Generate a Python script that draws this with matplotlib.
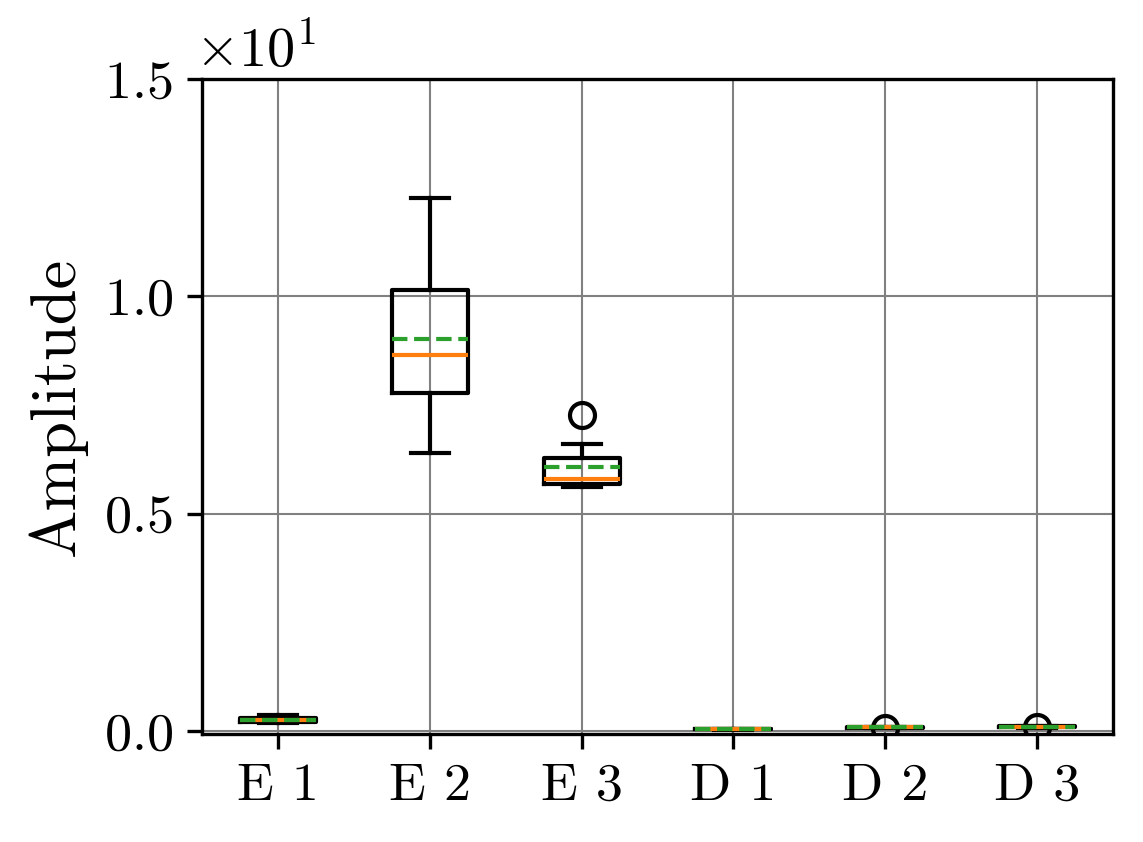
import matplotlib
matplotlib.use("Agg")
import matplotlib.pyplot as plt

plt.rcParams['font.family'] = 'serif'
plt.rcParams['font.serif'] = ['cmr10']
plt.rcParams['mathtext.fontset'] = 'cm'
plt.rcParams['axes.formatter.use_mathtext'] = True
plt.rcParams['axes.unicode_minus'] = False

labels = ["E 1", "E 2", "E 3", "D 1", "D 2", "D 3"]
medians = [0.25, 8.65, 5.79, 0.04, 0.08, 0.09]
q1s = [0.21, 7.78, 5.68, 0.035, 0.07, 0.08]
q3s = [0.30, 10.15, 6.27, 0.045, 0.09, 0.11]
whislos = [0.19, 6.40, 5.61, 0.03, 0.06, 0.07]
whishis = [0.37, 12.26, 6.60, 0.05, 0.10, 0.12]
means = [0.26, 9.02, 6.07, 0.04, 0.08, 0.09]
fliers = [[], [], [7.28], [], [0.07], [0.08]]

stats = []
for i, lab in enumerate(labels):
    stats.append(dict(label=lab, med=medians[i], q1=q1s[i], q3=q3s[i],
                      whislo=whislos[i], whishi=whishis[i], mean=means[i],
                      fliers=fliers[i]))

fig = plt.figure(figsize=(1143 / 300, 842 / 300), dpi=300)
ax = fig.add_axes([202 / 1143, 1 - 734 / 842, (1113 - 202) / 1143, (734 - 79) / 842])
ax.bxp(stats, showmeans=True, meanline=True, widths=0.5,
       meanprops=dict(color='C2', linestyle='--'))
ax.set_xlim(0.5, 6.5)
ax.set_ylim(-0.07, 15)
ax.set_yticks([0, 5, 10, 15])
ax.ticklabel_format(axis='y', style='sci', scilimits=(1, 1))
ax.grid(True, color='gray', linewidth=0.5)
ax.set_axisbelow(True)
ax.tick_params(labelsize=13)
off = ax.yaxis.get_offset_text()
off.set_fontsize(13.5)
off.set_x(-0.008)
ax.set_ylabel("Amplitude", fontsize=15.5)

fig.savefig("out.png", dpi=300)
